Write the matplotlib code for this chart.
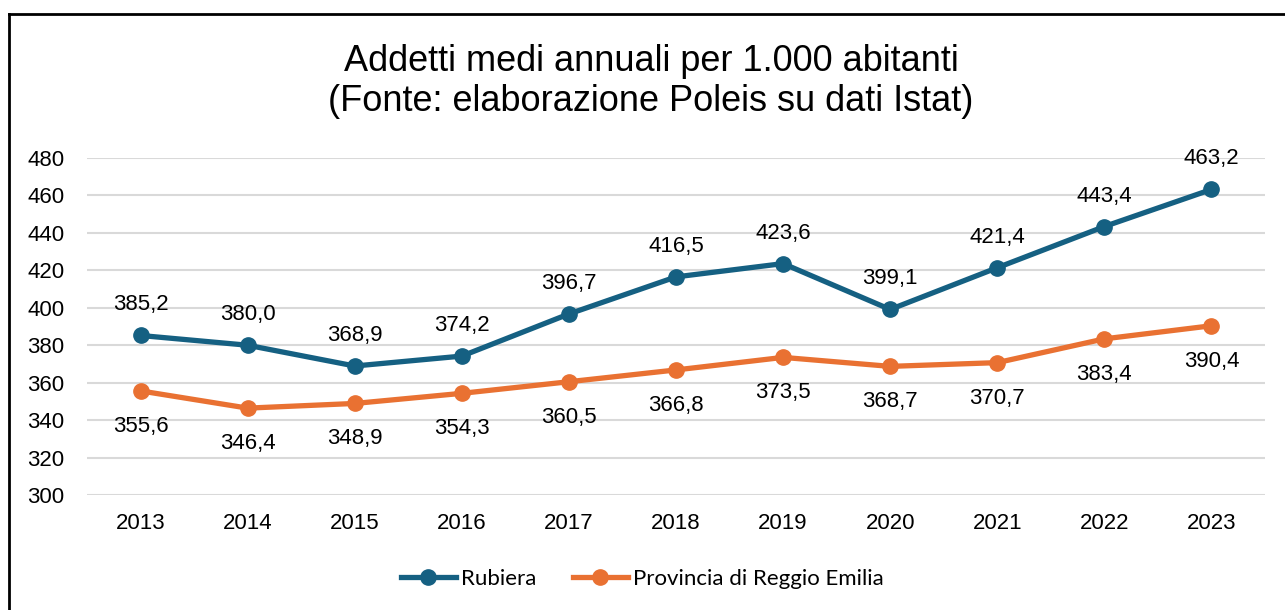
import matplotlib
matplotlib.use("Agg")
import matplotlib.pyplot as plt
from matplotlib.lines import Line2D

years = ["2013", "2014", "2015", "2016", "2017", "2018", "2019", "2020", "2021", "2022", "2023"]
rubiera = [385.2, 380.0, 368.9, 374.2, 396.7, 416.5, 423.6, 399.1, 421.4, 443.4, 463.2]
provincia = [355.6, 346.4, 348.9, 354.3, 360.5, 366.8, 373.5, 368.7, 370.7, 383.4, 390.4]
series_names = ["Rubiera", "Provincia di Reggio Emilia"]
title = "Addetti medi annuali per 1.000 abitanti\n(Fonte: elaborazione Poleis su dati Istat)"

blue = "#156082"
orange = "#E97132"

plt.rcParams['font.family'] = ['Liberation Sans', 'DejaVu Sans']

W, H = 1285, 610
fig = plt.figure(figsize=(W / 100, H / 100), dpi=100)
ax = fig.add_axes([87 / W, 1 - 495 / H, (1265 - 87) / W, (495 - 158) / H])

x = list(range(len(years)))
ax.plot(x, rubiera, color=blue, lw=3.8, marker='o', ms=11, solid_capstyle='round', zorder=3,
        label=series_names[0])
ax.plot(x, provincia, color=orange, lw=3.8, marker='o', ms=11, solid_capstyle='round', zorder=3,
        label=series_names[1])

def fmt(v):
    return f"{v:.1f}".replace(".", ",")

for xi, v in zip(x, rubiera):
    ax.annotate(fmt(v), (xi, v), xytext=(0, 18), textcoords='offset points',
                ha='center', va='baseline', fontsize=16, color='#000000')
for xi, v in zip(x, provincia):
    ax.annotate(fmt(v), (xi, v), xytext=(0, -29.5), textcoords='offset points',
                ha='center', va='baseline', fontsize=16, color='#000000')

ax.set_xlim(-0.5, len(years) - 0.5)
ax.set_ylim(300, 480)
ax.set_yticks(range(300, 481, 20))
ax.set_xticks(x)
ax.set_xticklabels(years)
ax.tick_params(axis='both', length=0, labelsize=16, colors='#000000')
ax.tick_params(axis='y', pad=43)
for lbl in ax.get_yticklabels():
    lbl.set_horizontalalignment('left')
ax.tick_params(axis='x', pad=13)
ax.grid(axis='y', color='#d9d9d9', lw=1.5)
ax.set_axisbelow(True)
for s in ax.spines.values():
    s.set_visible(False)

fig.text(651 / W, 1 - 81.5 / H, title, ha='center', va='center', fontsize=26,
         linespacing=1.2, color='#000000')

handles = [Line2D([], [], color=blue, lw=3.8, marker='o', ms=11),
           Line2D([], [], color=orange, lw=3.8, marker='o', ms=11)]
fig.legend(handles, series_names, loc='center', bbox_to_anchor=(642 / W, 1 - 579 / H),
           ncol=2, frameon=False, handlelength=2.5, handletextpad=0.2,
           columnspacing=1.65, prop={'family': ['Lato', 'DejaVu Sans'], 'size': 16})

# figure border (top and left visible)
fig.add_artist(Line2D([9 / W, 9 / W], [0, 1 - 14 / H], color='black', lw=2,
                      transform=fig.transFigure))
fig.add_artist(Line2D([9 / W, 1], [1 - 14 / H, 1 - 14 / H], color='black', lw=2,
                      transform=fig.transFigure))

fig.savefig("out.png", dpi=100, facecolor='white')
